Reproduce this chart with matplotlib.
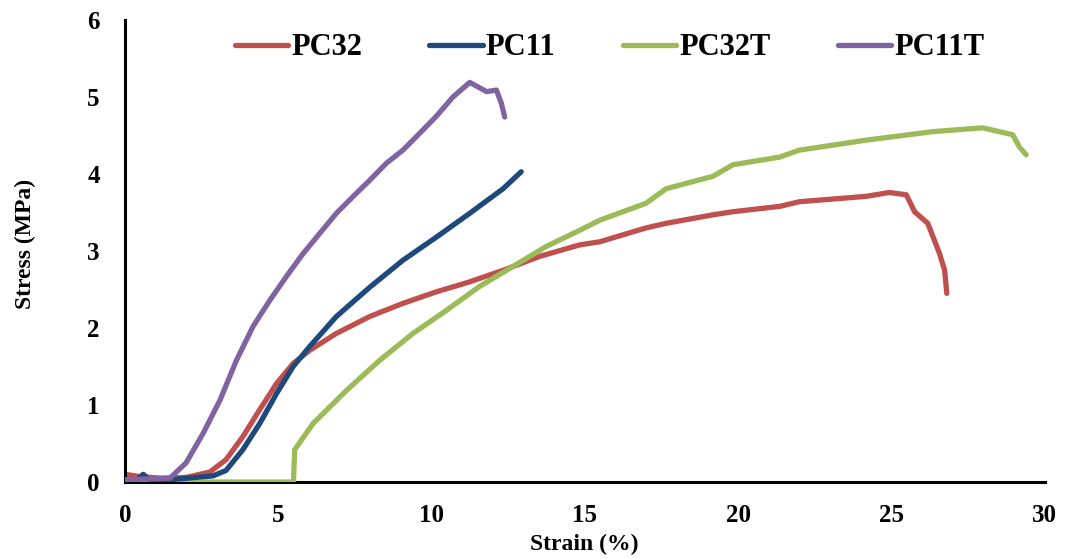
import matplotlib
matplotlib.use("Agg")
import matplotlib.pyplot as plt

plt.rcParams['font.family'] = ['Liberation Serif', 'DejaVu Serif']

# ---- data ----
pc32_x = [0, 0.5, 1.2, 2.0, 2.77, 3.3, 3.85, 4.4, 4.95, 5.49, 6.03, 6.9, 7.99, 9.07,
          10.16, 11.25, 12.34, 13.53, 14.84, 15.49, 17.0, 17.66, 19.18, 19.83, 21.36,
          22.0, 24.18, 24.94, 25.49, 25.76, 26.19, 26.57, 26.74, 26.81]
pc32_y = [0.1, 0.07, 0.05, 0.06, 0.13, 0.29, 0.59, 0.94, 1.28, 1.54, 1.71, 1.93, 2.15, 2.32,
          2.47, 2.6, 2.75, 2.93, 3.08, 3.12, 3.3, 3.36, 3.47, 3.51, 3.58,
          3.64, 3.71, 3.76, 3.73, 3.51, 3.36, 2.97, 2.75, 2.45]

pc11_x = [0, 0.4, 0.6, 0.8, 1.47, 2.88, 3.3, 3.85, 4.4, 4.95, 5.49, 6.03, 6.9, 7.99,
          9.07, 10.16, 11.25, 12.34, 12.93]
pc11_y = [0.03, 0.03, 0.1, 0.03, 0.03, 0.08, 0.15, 0.42, 0.76, 1.15, 1.5, 1.76, 2.15, 2.53,
          2.88, 3.18, 3.49, 3.81, 4.03]

pc32t_x = [0, 5.5, 5.54, 6.14, 7.23, 8.31, 9.4, 10.49, 11.57, 12.66, 13.75, 14.84, 15.49,
           17.0, 17.66, 19.18, 19.83, 21.36, 22.0, 24.18, 26.35, 27.98, 28.96, 29.18, 29.4]
pc32t_y = [0, 0, 0.42, 0.76, 1.19, 1.58, 1.93, 2.23, 2.54, 2.8, 3.06, 3.27, 3.4,
           3.62, 3.81, 3.97, 4.12, 4.22, 4.31, 4.44, 4.55, 4.6, 4.51, 4.35, 4.25]

pc11t_x = [0, 1.47, 2.0, 2.55, 3.1, 3.64, 4.18, 4.73, 5.27, 5.82, 6.36, 6.9, 7.45, 7.99,
           8.53, 9.07, 9.62, 10.16, 10.7, 11.25, 11.57, 11.8, 12.12, 12.28, 12.39]
pc11t_y = [0.03, 0.05, 0.25, 0.63, 1.06, 1.58, 2.02, 2.36, 2.67, 2.97, 3.23, 3.49, 3.71, 3.92,
           4.14, 4.31, 4.53, 4.75, 5.0, 5.19, 5.12, 5.07, 5.09, 4.92, 4.74]

labels = ["PC32", "PC11", "PC32T", "PC11T"]
x_ticks = [0, 5, 10, 15, 20, 25, 30]
y_ticks = [0, 1, 2, 3, 4, 5, 6]

colors = ["#C0504D", "#1F497D", "#9BBB59", "#8064A2"]
zorders = [2, 4, 3, 5]

fig = plt.figure(figsize=(10.67, 5.59), dpi=100)
ax = fig.add_axes([0.117, 0.1377, 0.862, 0.8265])

series = [(pc32_x, pc32_y), (pc11_x, pc11_y), (pc32t_x, pc32t_y), (pc11t_x, pc11t_y)]
for (xs, ys), lab, c, z in zip(series, labels, colors, zorders):
    ax.plot(xs, ys, color=c, lw=3.8, label=lab, zorder=z, solid_capstyle='round',
            solid_joinstyle='round')

ax.set_xlim(0, 30)
ax.set_ylim(0, 6)
ax.set_xticks(x_ticks)
ax.set_yticks(y_ticks)
ax.set_xticklabels([str(v) for v in x_ticks], fontsize=18, fontweight='bold')
ax.set_yticklabels([str(v) for v in y_ticks], fontsize=18, fontweight='bold')
ax.tick_params(axis='x', length=0, pad=16)
ax.tick_params(axis='y', length=0, pad=18)

for s in ['top', 'right']:
    ax.spines[s].set_visible(False)
for s in ['left', 'bottom']:
    ax.spines[s].set_linewidth(2.2)
    ax.spines[s].set_color('black')

ax.set_xlabel("Strain (%)", fontsize=17, fontweight='bold')
ax.xaxis.set_label_coords(0.5, -0.113)
ax.set_ylabel("Stress (MPa)", fontsize=17, fontweight='bold')
ax.yaxis.set_label_coords(-0.097, 0.515)

leg = ax.legend(loc='center', bbox_to_anchor=(0.527, 0.94), ncol=4, frameon=False,
                prop={'family': 'Liberation Serif', 'weight': 'bold', 'size': 22},
                handlelength=1.75, handletextpad=0.1, columnspacing=2.2)

fig.savefig("out.png", dpi=100, facecolor='white')
